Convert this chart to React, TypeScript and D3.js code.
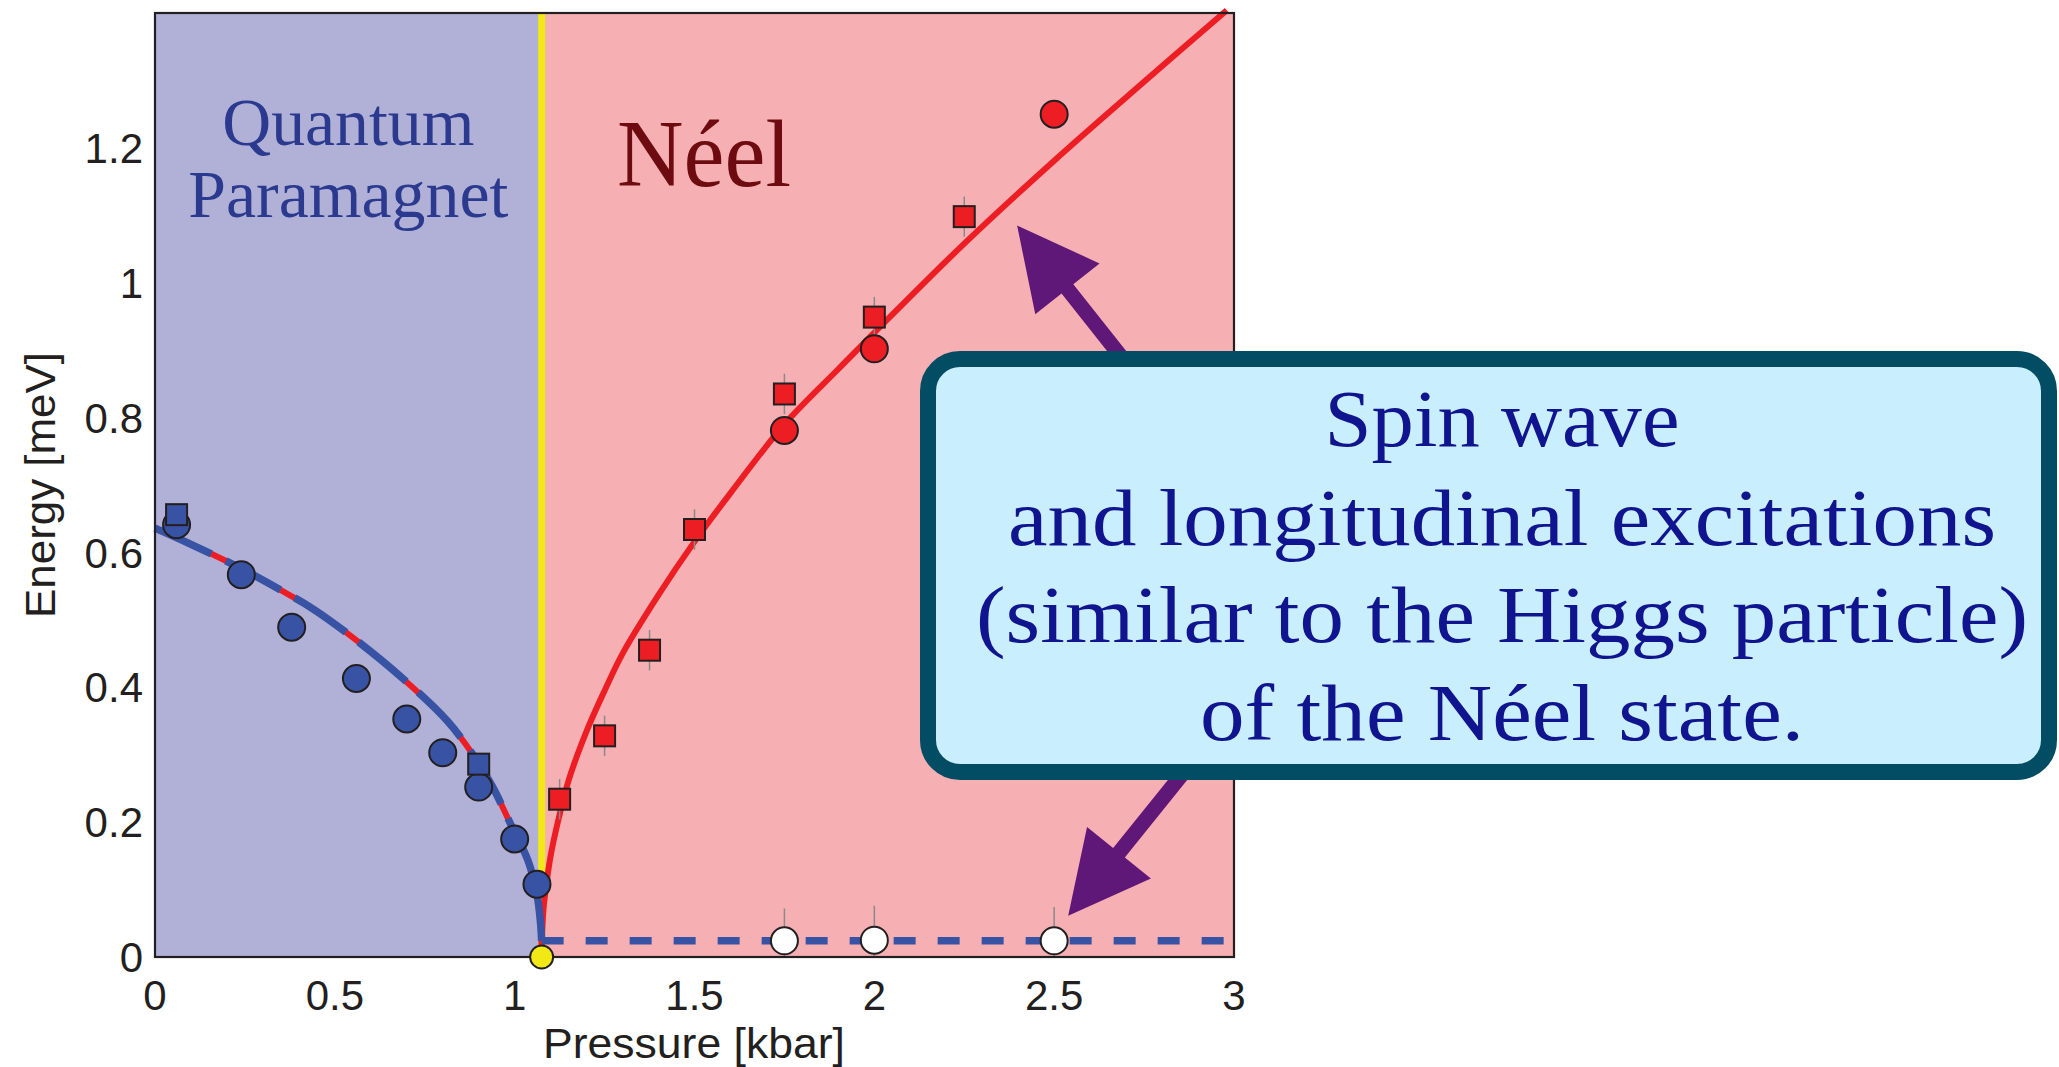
import React from "react";
import * as d3 from "d3";

// figure size and plot frame (pixels)
const W = 2059;
const H = 1067;
const frame = { left: 155, right: 1234, top: 13, bottom: 957 };

const pressureTicks = [0, 0.5, 1, 1.5, 2, 2.5, 3];
const pressureTickLabels = ["0", "0.5", "1", "1.5", "2", "2.5", "3"];
const energyTicks = [0, 0.2, 0.4, 0.6, 0.8, 1, 1.2];
const energyTickLabels = ["0", "0.2", "0.4", "0.6", "0.8", "1", "1.2"];

const criticalPressure = 1.075;
const gapEnergy = 0.024;

// [pressure kbar, energy meV]
const paramagnetCircles = [
  [0.06, 0.641], [0.24, 0.567], [0.38, 0.489], [0.56, 0.413], [0.7, 0.353],
  [0.8, 0.303], [0.9, 0.252], [1.0, 0.175], [1.062, 0.108],
];
const paramagnetSquares = [[0.06, 0.656], [0.9, 0.286]];

const neelSquares = [
  [1.125, 0.234], [1.25, 0.328], [1.375, 0.455], [1.5, 0.634],
  [1.75, 0.835], [2.0, 0.949], [2.25, 1.098],
];
const neelSquareErr = [0.03, 0.03, 0.03, 0.03, 0.03, 0.03, 0.03];
const neelCircles = [[1.75, 0.781], [2.0, 0.902], [2.5, 1.25]];

const gapCircles = [[1.75, 0.024], [2.0, 0.025], [2.5, 0.024]];
const gapCircleErrTop = [0.072, 0.076, 0.074];

// fitted curves
const paramagnetFit = [
  [0, 0.636], [0.1, 0.612], [0.24, 0.576], [0.35, 0.544], [0.44, 0.516],
  [0.564, 0.468], [0.689, 0.413], [0.813, 0.35], [0.888, 0.297],
  [0.938, 0.253], [0.988, 0.198], [1.037, 0.143], [1.062, 0.093], [1.072, 0.05],
];
const neelFit = [
  [1.075, 0.012], [1.08, 0.07], [1.09, 0.115], [1.1, 0.15], [1.12, 0.2],
  [1.15, 0.262], [1.2, 0.335], [1.25, 0.395], [1.3, 0.45], [1.4, 0.537],
  [1.5, 0.616], [1.6, 0.688], [1.75, 0.79], [1.9, 0.872], [2.0, 0.926],
  [2.25, 1.058], [2.5, 1.181], [2.75, 1.298], [2.98, 1.404],
];

const boxLines = [
  "Spin wave",
  "and longitudinal excitations",
  "(similar to the Higgs particle)",
  "of the Néel state.",
];
const boxLineWidths = [355, 988, 1052, 604];
const boxLineBaselines = [446, 545, 642, 740];

const upperArrowTip = [2.397, 1.085];
const lowerArrowTip = [2.539, 0.061];

const C = {
  para: "#b1b0d7",
  neel: "#f6b0b3",
  yellow: "#f1e816",
  red: "#ed1d24",
  blue: "#3953a4",
  ink: "#231f20",
  boxEdge: "#024d63",
  boxFill: "#c9eefd",
  boxText: "#10148e",
  arrow: "#5f1878",
  paraText: "#2b3a8f",
  neelText: "#6d0b10",
};

const sans = "'Liberation Sans', Arial, Helvetica, sans-serif";
const serif = "'Liberation Serif', 'Times New Roman', serif";

function arrowPath(tip: number[], dir: number[], len: number) {
  const headLen = 81;
  const headHalf = 41;
  const shaftHalf = 7.5;
  const [ux, uy] = dir;
  const px = -uy;
  const py = ux;
  const bx = tip[0] + ux * headLen;
  const by = tip[1] + uy * headLen;
  const ex = tip[0] + ux * len;
  const ey = tip[1] + uy * len;
  const pts = [
    [tip[0], tip[1]],
    [bx + px * headHalf, by + py * headHalf],
    [bx + px * shaftHalf, by + py * shaftHalf],
    [ex + px * shaftHalf, ey + py * shaftHalf],
    [ex - px * shaftHalf, ey - py * shaftHalf],
    [bx - px * shaftHalf, by - py * shaftHalf],
    [bx - px * headHalf, by - py * headHalf],
  ];
  return "M" + pts.map((p) => p.join(",")).join("L") + "Z";
}

export default function App() {
  const x = d3.scaleLinear().domain([0, 3]).range([frame.left, frame.right]);
  const y = d3.scaleLinear().domain([0, 1.4]).range([frame.bottom, frame.top]);

  const smooth = d3
    .line<number[]>()
    .x((d) => x(d[0]))
    .y((d) => y(d[1]))
    .curve(d3.curveCatmullRom.alpha(0.5));
  const straight = d3
    .line<number[]>()
    .x((d) => x(d[0]))
    .y((d) => y(d[1]));

  const redPara = [...paramagnetFit, [criticalPressure, 0.012]];
  const bluePara = [...paramagnetFit, [criticalPressure, gapEnergy]];
  const gapLine = [[criticalPressure, gapEnergy], [3, gapEnergy]];

  const sq = 21;
  const r = 13.5;

  return (
    <svg
      width={W}
      height={H}
      style={{ position: "absolute", left: 0, top: 0, background: "#fff" }}
    >
      {/* phase regions */}
      <rect
        x={x(0)}
        y={y(1.4)}
        width={x(criticalPressure) - x(0)}
        height={y(0) - y(1.4)}
        fill={C.para}
      />
      <rect
        x={x(criticalPressure)}
        y={y(1.4)}
        width={x(3) - x(criticalPressure)}
        height={y(0) - y(1.4)}
        fill={C.neel}
      />
      <line
        x1={x(criticalPressure)}
        x2={x(criticalPressure)}
        y1={y(0)}
        y2={y(1.4)}
        stroke={C.yellow}
        strokeWidth={7}
      />

      {/* fits */}
      <path d={smooth(redPara) ?? ""} fill="none" stroke={C.red} strokeWidth={6} />
      <path
        d={smooth([[criticalPressure, 0.012], ...neelFit]) ?? ""}
        fill="none"
        stroke={C.red}
        strokeWidth={6}
      />
      <path
        d={smooth(bluePara) ?? ""}
        fill="none"
        stroke={C.blue}
        strokeWidth={7.5}
        strokeDasharray="62,16"
      />
      <path
        d={straight(gapLine) ?? ""}
        fill="none"
        stroke={C.blue}
        strokeWidth={7.5}
        strokeDasharray="22,22"
      />

      {/* error bars */}
      {neelSquares.map((d, i) => (
        <line
          key={"es" + i}
          x1={x(d[0])}
          x2={x(d[0])}
          y1={y(d[1] - neelSquareErr[i])}
          y2={y(d[1] + neelSquareErr[i])}
          stroke="#8a8a8a"
          strokeWidth={1.5}
        />
      ))}
      {gapCircles.map((d, i) => (
        <line
          key={"eg" + i}
          x1={x(d[0])}
          x2={x(d[0])}
          y1={y(0)}
          y2={y(gapCircleErrTop[i])}
          stroke="#8a8a8a"
          strokeWidth={1.5}
        />
      ))}

      {/* data */}
      {paramagnetCircles.map((d, i) => (
        <circle key={"pc" + i} cx={x(d[0])} cy={y(d[1])} r={r} fill={C.blue} stroke={C.ink} strokeWidth={2} />
      ))}
      {paramagnetSquares.map((d, i) => (
        <rect
          key={"ps" + i}
          x={x(d[0]) - sq / 2}
          y={y(d[1]) - sq / 2}
          width={sq}
          height={sq}
          fill={C.blue}
          stroke={C.ink}
          strokeWidth={2}
        />
      ))}
      {neelSquares.map((d, i) => (
        <rect
          key={"ns" + i}
          x={x(d[0]) - sq / 2}
          y={y(d[1]) - sq / 2}
          width={sq}
          height={sq}
          fill={C.red}
          stroke={C.ink}
          strokeWidth={2}
        />
      ))}
      {neelCircles.map((d, i) => (
        <circle key={"nc" + i} cx={x(d[0])} cy={y(d[1])} r={r} fill={C.red} stroke={C.ink} strokeWidth={2} />
      ))}
      {gapCircles.map((d, i) => (
        <circle key={"gc" + i} cx={x(d[0])} cy={y(d[1])} r={r} fill="#fff" stroke={C.ink} strokeWidth={2} />
      ))}

      {/* axes frame */}
      <rect
        x={x(0)}
        y={y(1.4)}
        width={x(3) - x(0)}
        height={y(0) - y(1.4)}
        fill="none"
        stroke={C.ink}
        strokeWidth={2.2}
      />
      <circle
        cx={x(criticalPressure)}
        cy={y(0)}
        r={11.5}
        fill={C.yellow}
        stroke={C.ink}
        strokeWidth={2}
      />

      {/* tick labels */}
      {pressureTicks.map((t, i) => (
        <text
          key={"xt" + i}
          x={x(t)}
          y={1010}
          textAnchor="middle"
          fontFamily={sans}
          fontSize={42}
          fill={C.ink}
        >
          {pressureTickLabels[i]}
        </text>
      ))}
      {energyTicks.map((t, i) => (
        <text
          key={"yt" + i}
          x={143}
          y={y(t)}
          dy="0.36em"
          textAnchor="end"
          fontFamily={sans}
          fontSize={42}
          fill={C.ink}
        >
          {energyTickLabels[i]}
        </text>
      ))}
      <text
        x={694}
        y={1058}
        textAnchor="middle"
        fontFamily={sans}
        fontSize={43}
        fill={C.ink}
        textLength={302}
        lengthAdjust="spacingAndGlyphs"
      >
        Pressure [kbar]
      </text>
      <text
        transform={`translate(55,485) rotate(-90)`}
        textAnchor="middle"
        fontFamily={sans}
        fontSize={43}
        fill={C.ink}
        textLength={266}
        lengthAdjust="spacingAndGlyphs"
      >
        Energy [meV]
      </text>

      {/* region labels */}
      <text
        x={x(criticalPressure / 2)}
        y={145}
        textAnchor="middle"
        fontFamily={serif}
        fontSize={68}
        fill={C.paraText}
        textLength={252}
        lengthAdjust="spacingAndGlyphs"
      >
        Quantum
      </text>
      <text
        x={x(criticalPressure / 2)}
        y={217}
        textAnchor="middle"
        fontFamily={serif}
        fontSize={68}
        fill={C.paraText}
        textLength={320}
        lengthAdjust="spacingAndGlyphs"
      >
        Paramagnet
      </text>
      <text
        x={617}
        y={186}
        fontFamily={serif}
        fontSize={95}
        fill={C.neelText}
        textLength={174}
        lengthAdjust="spacingAndGlyphs"
      >
        Néel
      </text>

      {/* arrows */}
      <path
        d={arrowPath([x(upperArrowTip[0]), y(upperArrowTip[1])], [0.621, 0.784], 260)}
        fill={C.arrow}
      />
      <path
        d={arrowPath([x(lowerArrowTip[0]), y(lowerArrowTip[1])], [0.627, -0.779], 260)}
        fill={C.arrow}
      />

      {/* callout */}
      <rect
        x={928}
        y={359}
        width={1121}
        height={413}
        rx={32}
        ry={32}
        fill={C.boxFill}
        stroke={C.boxEdge}
        strokeWidth={16}
      />
      {boxLines.map((t, i) => (
        <text
          key={"bl" + i}
          x={1502}
          y={boxLineBaselines[i]}
          textAnchor="middle"
          fontFamily={serif}
          fontSize={80}
          fill={C.boxText}
          textLength={boxLineWidths[i]}
          lengthAdjust="spacingAndGlyphs"
        >
          {t}
        </text>
      ))}
    </svg>
  );
}
